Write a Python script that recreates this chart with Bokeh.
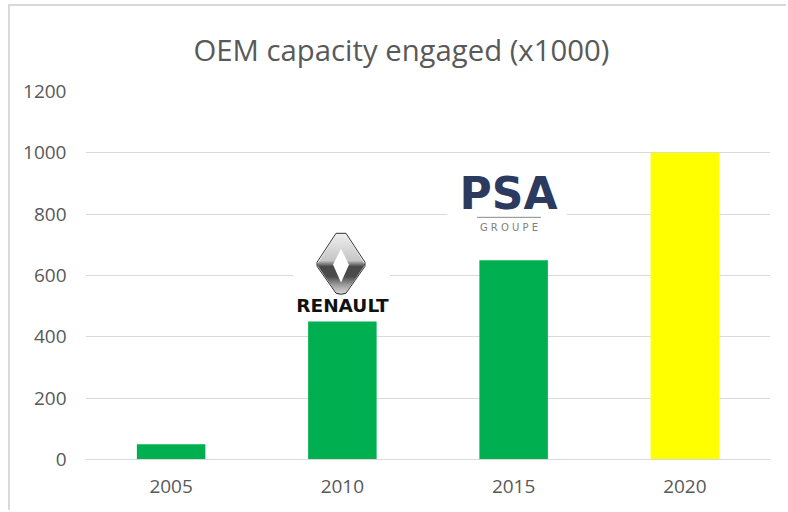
import numpy as np
from bokeh.plotting import figure
from bokeh.models import Range1d, FixedTicker, Title
from bokeh.embed import file_html
from bokeh.resources import INLINE
from bokeh.core.properties import value

years = ["2005", "2010", "2015", "2020"]
capacity = [50, 450, 650, 1000]
bar_colors = ["#00B050", "#00B050", "#00B050", "#FFFF00"]
y_ticks = [0, 200, 400, 600, 800, 1000, 1200]
title_text = "OEM capacity engaged (x1000)"

W, H = 778, 506
L, R, T, B = 75, 18, 85, 53
p = figure(width=W, height=H, output_backend="svg", toolbar_location=None,
           x_range=Range1d(-0.5, 3.5), y_range=Range1d(0, 1200),
           min_border_left=L, min_border_right=R, min_border_top=T, min_border_bottom=B,
           styles={"border-left": "2px solid #d9d9d9", "border-top": "2px solid #d9d9d9",
                   "margin-left": "8px", "margin-top": "4px"})
p.outline_line_color = None
p.title = Title(text=title_text, text_font="Open Sans", text_font_size="29.3px",
                text_font_style="normal", text_color="#595959", align="left",
                vertical_align="middle", offset=108, standoff=42)

positions = list(range(len(years)))
p.xaxis.ticker = FixedTicker(ticks=positions)
p.xaxis.major_label_overrides = dict(zip(positions, years))
p.yaxis.ticker = FixedTicker(ticks=y_ticks)
for ax in (p.xaxis, p.yaxis):
    ax.major_tick_line_color = None
    ax.minor_tick_line_color = None
    ax.major_label_text_font = "Open Sans"
    ax.major_label_text_font_size = "19px"
    ax.major_label_text_color = "#595959"
p.xaxis.axis_line_color = "#d9d9d9"
p.yaxis.axis_line_color = None
p.xaxis.major_label_standoff = 14
p.yaxis.major_label_standoff = 13
p.xgrid.visible = False
p.ygrid.ticker = FixedTicker(ticks=y_ticks)
p.ygrid.grid_line_color = "#d9d9d9"
p.ygrid.grid_line_width = 1

p.vbar(x=positions, top=capacity, bottom=0, width=0.4, color=bar_colors, line_color=None)

# logos are drawn in reference pixels, converted to the plot's data scale
def dx(px):
    return (np.asarray(px, dtype=float) - 85.5) / (685 / 4) - 0.5
def dy(py):
    return (459.5 - np.asarray(py, dtype=float)) * 1200 / 368.5

def white(x0, x1, y0, y1):
    p.quad(left=dx(x0), right=dx(x1), top=dy(y0), bottom=dy(y1), color="white", line_color=None)

white(293, 390, 228, 318)
white(447, 567, 172, 236)

# Renault diamond, as horizontal shaded bands
cx, cy = 341, 264
def half(py, top, bottom, w):
    return w * (1 - (cy - py) / (cy - top)) if py < cy else w * (1 - (py - cy) / (bottom - cy))
rows = np.arange(233, 294.5, 1.0)
def shade(py):
    pts_y = [233, 260, 266, 276, 284, 294]
    pts_g = [235, 185, 30, 35, 130, 215]
    return int(np.interp(py, pts_y, pts_g))
for py in rows:
    wo = min(half(py, 226, 299, 24), 24)
    wi = max(half(py, 248, 282, 8), 0)
    g = shade(py)
    col = f"#{g:02x}{g:02x}{g:02x}"
    y0, y1 = dy(py), dy(py + 1)
    p.quad(left=dx(cx - wo), right=dx(cx - wi), top=y0, bottom=y1, color=col, line_color=None)
    p.quad(left=dx(cx + wi), right=dx(cx + wo), top=y0, bottom=y1, color=col, line_color=None)
outline_x = [341, 346, 365, 365, 346, 341, 336, 317, 317, 336, 341]
outline_y = [233, 233, 262, 266, 293, 294, 293, 266, 262, 233, 233]
p.line(dx(outline_x), dy(outline_y), line_color="#333333", line_width=1)

p.text(x=dx([342.5]), y=dy([305]), text=["RENAULT"], text_font=value("DejaVu Sans"),
       text_font_style="bold", text_font_size="18.5px", text_color="#111111",
       text_align="center", text_baseline="middle")
p.text(x=dx([508.5]), y=dy([193]), text=["PSA"], text_font=value("DejaVu Sans"),
       text_font_style="bold", text_font_size="44px", text_color="#2b3a5e",
       text_align="center", text_baseline="middle")
p.line(dx([477, 541]), dy([217, 217]), line_color="#8a8a8a", line_width=1)
p.text(x=dx([509]), y=dy([227]), text=["G R O U P E"], text_font=value("DejaVu Sans"),
       text_font_size="10px", text_color="#808080", text_align="center", text_baseline="middle")

open("out.html", "w").write(file_html(p, INLINE))
